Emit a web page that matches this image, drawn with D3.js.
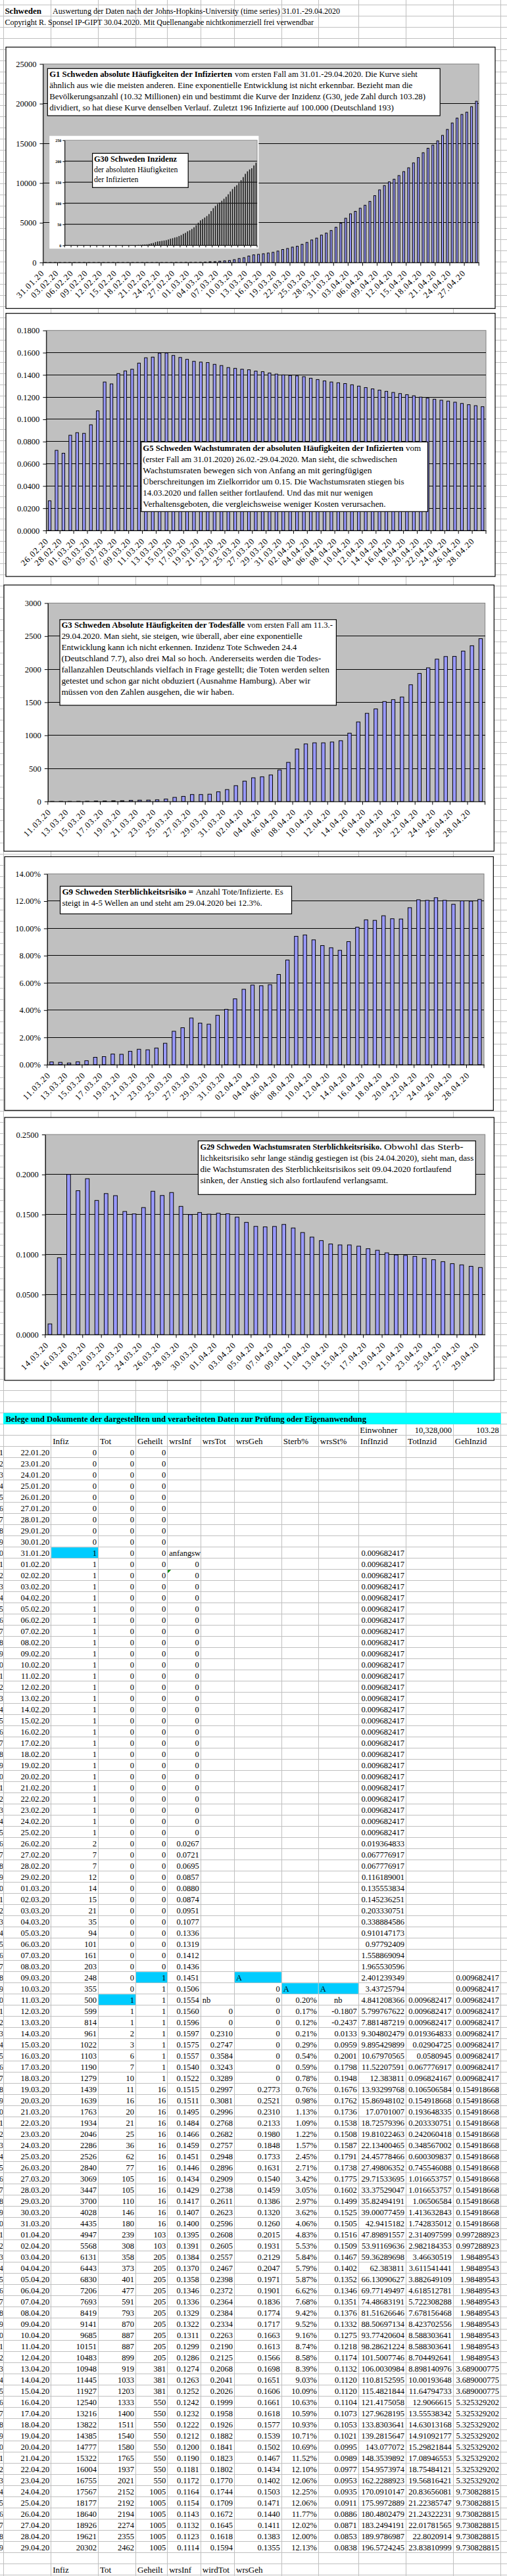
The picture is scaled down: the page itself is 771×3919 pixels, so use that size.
<!DOCTYPE html>
<html><head><meta charset="utf-8">
<script src="https://cdn.jsdelivr.net/npm/d3@7"></script>
<style>body{margin:0;background:#fff}svg{display:block}</style>
</head><body>
<svg id="c" width="771" height="3919"></svg>
<script>
// ---------- DATA ----------
const dates = d3.timeDay.range(new Date(2020,0,22), new Date(2020,3,30)).map(d3.timeFormat("%d.%m.%y"));

const infiz = [0,0,0,0,0,0,0,0,0,
 1,1,1,1,1,1,1,1,1,1,1,1,1,1,1,1,1,1,1,1,1,1,1,1,1,1,
 2,7,7,12,
 14,15,21,35,94,101,161,203,248,355,500,599,814,961,1022,1103,1190,1279,1439,1639,1763,1934,2046,2286,2526,2840,3069,3447,3700,4028,4435,
 4947,5568,6131,6443,6830,7206,7693,8419,9141,9685,10151,10483,10948,11445,11927,12540,13216,13822,14385,14777,15322,16004,16755,17567,18177,18640,18926,19621,20302];

const tot = [0,0,0,0,0,0,0,0,0,0, 0,0,0,0,0,0,0,0,0,0, 0,0,0,0,0,0,0,0,0,0, 0,0,0,0,0,0,0,0,0,0, 0,0,0,0,0,0,0,0,0,
 1,1,1,2,3,6,7,10,11,16,20,21,25,36,62,77,105,105,110,146,180,
 239,308,358,373,401,477,591,793,870,887,887,899,919,1033,1203,1333,1400,1511,1540,1580,1765,1937,2021,2152,2192,2194,2274,2355,2462];

const geheilt = [0,0,0,0,0,0,0,0,0,0, 0,0,0,0,0,0,0,0,0,0, 0,0,0,0,0,0,0,0,0,0, 0,0,0,0,0,0,0,0,0,0, 0,0,0,0,0,0,0,
 1,1,1,1,1,1,1,1,1,1,
 16,16,16,16,16,16,16,16,16,16,16,16,16,
 103,103,
 205,205,205,205,205,205,205,205,205,205,
 381,381,381,
 550,550,550,550,550,550,550,550,
 1005,1005,1005,1005,1005,1005];

const wrsInf = [null,null,null,null,null,null,null,null,null,null,
 0,0,0,0,0,0,0,0,0,0,0,0,0,0,0,0,0,0,0,0,0,0,0,0,0,
 0.0267,0.0721,0.0695,0.0857,
 0.0880,0.0874,0.0951,0.1077,0.1336,0.1319,0.1412,0.1436,0.1451,0.1506,0.1554,0.1560,0.1596,0.1597,0.1575,0.1557,0.1540,0.1522,0.1515,0.1511,0.1495,0.1484,0.1466,0.1459,0.1451,0.1446,0.1434,0.1429,0.1417,0.1407,0.1400,
 0.1395,0.1391,0.1384,0.1370,0.1358,0.1346,0.1336,0.1329,0.1322,0.1311,0.1299,0.1286,0.1274,0.1263,0.1252,0.1242,0.1232,0.1222,0.1212,0.1200,0.1190,0.1181,0.1172,0.1164,0.1154,0.1143,0.1132,0.1123,0.1114];

const wrsTot = [null,null,null,null,null,null,null,null,null,null, null,null,null,null,null,null,null,null,null,null,
 null,null,null,null,null,null,null,null,null,null, null,null,null,null,null,null,null,null,null,null,
 null,null,null,null,null,null,null,null,null,null,
 0,0,
 0.2310,0.2747,0.3584,0.3243,0.3289,0.2997,0.3081,0.2996,0.2768,0.2682,0.2757,0.2948,0.2896,0.2909,0.2738,0.2611,0.2623,0.2596,
 0.2608,0.2605,0.2557,0.2467,0.2398,0.2372,0.2364,0.2384,0.2334,0.2263,0.2190,0.2125,0.2068,0.2041,0.2026,0.1999,0.1958,0.1926,0.1882,0.1841,0.1823,0.1802,0.1770,0.1744,0.1709,0.1672,0.1645,0.1618,0.1594];

const wrsGeh = [null,null,null,null,null,null,null,null,null,null, null,null,null,null,null,null,null,null,null,null,
 null,null,null,null,null,null,null,null,null,null, null,null,null,null,null,null,null,null,null,null,
 null,null,null,null,null,null,null,null,
 0,0,0,0,0,0,0,0,0,
 0.2773,0.2521,0.2310,0.2133,0.1980,0.1848,0.1733,0.1631,0.1540,0.1459,0.1386,0.1320,0.1260,
 0.2015,0.1931,0.2129,0.2047,0.1971,0.1901,0.1836,0.1774,0.1717,0.1663,0.1613,0.1566,0.1698,0.1651,0.1606,0.1661,0.1618,0.1577,0.1539,0.1502,0.1467,0.1434,0.1402,0.1503,0.1471,0.1440,0.1411,0.1383,0.1355];

const sterb = [null,null,null,null,null,null,null,null,null,null, null,null,null,null,null,null,null,null,null,null,
 null,null,null,null,null,null,null,null,null,null, null,null,null,null,null,null,null,null,null,null,
 null,null,null,null,null,null,null,null,null,
 0.20,0.17,0.12,0.21,0.29,0.54,0.59,0.78,0.76,0.98,1.13,1.09,1.22,1.57,2.45,2.71,3.42,3.05,2.97,3.62,4.06,
 4.83,5.53,5.84,5.79,5.87,6.62,7.68,9.42,9.52,9.16,8.74,8.58,8.39,9.03,10.09,10.63,10.59,10.93,10.71,10.69,11.52,12.10,12.06,12.25,12.06,11.77,12.02,12.00,12.13];

const wrsSt = [null,null,null,null,null,null,null,null,null,null, null,null,null,null,null,null,null,null,null,null,
 null,null,null,null,null,null,null,null,null,null, null,null,null,null,null,null,null,null,null,null,
 null,null,null,null,null,null,null,null,null,null,
 -0.1807,-0.2437,
 0.0133,0.0959,0.2001,0.1798,0.1948,0.1676,0.1762,0.1736,0.1538,0.1508,0.1587,0.1791,0.1738,0.1775,0.1602,0.1499,0.1525,0.1505,
 0.1516,0.1509,0.1467,0.1402,0.1352,0.1346,0.1351,0.1376,0.1332,0.1275,0.1218,0.1174,0.1132,0.1120,0.1120,0.1104,0.1073,0.1053,0.1021,0.0995,0.0989,0.0977,0.0953,0.0935,0.0911,0.0886,0.0871,0.0853,0.0838];

const infInz = [null,null,null,null,null,null,null,null,null,
 0.009682417,0.009682417,0.009682417,0.009682417,0.009682417,0.009682417,0.009682417,0.009682417,0.009682417,0.009682417,0.009682417,0.009682417,0.009682417,
 0.009682417,0.009682417,0.009682417,0.009682417,0.009682417,0.009682417,0.009682417,0.009682417,0.009682417,0.009682417,0.009682417,0.009682417,0.009682417,
 0.019364833,0.067776917,0.067776917,0.116189001,
 0.135553834,0.145236251,0.203330751,0.338884586,0.910147173,0.97792409,1.558869094,1.965530596,2.401239349,3.43725794,4.841208366,5.799767622,7.881487219,9.304802479,9.895429899,10.67970565,11.52207591,12.383811,13.93299768,15.86948102,17.0701007,18.72579396,19.81022463,22.13400465,24.45778466,27.49806352,29.71533695,33.37529047,35.82494191,39.00077459,42.9415182,
 47.89891557,53.91169636,59.36289698,62.383811,66.13090627,69.77149497,74.48683191,81.51626646,88.50697134,93.77420604,98.28621224,101.5007746,106.0030984,110.8152595,115.4821844,121.4175058,127.9628195,133.8303641,139.2815647,143.077072,148.3539892,154.9573974,162.2288923,170.0910147,175.9972889,180.4802479,183.2494191,189.9786987,196.5724245];

const totInz = [null,null,null,null,null,null,null,null,null,null, null,null,null,null,null,null,null,null,null,null,
 null,null,null,null,null,null,null,null,null,null, null,null,null,null,null,null,null,null,null,null,
 null,null,null,null,null,null,null,null,null,
 0.009682417,0.009682417,0.009682417,0.019364833,0.02904725,0.0580945,0.067776917,0.096824167,0.106506584,0.154918668,0.193648335,0.203330751,0.242060418,0.348567002,0.600309837,0.745546088,1.016653757,1.016653757,1.06506584,1.413632843,1.742835012,
 2.314097599,2.982184353,3.46630519,3.611541441,3.882649109,4.618512781,5.722308288,7.678156468,8.423702556,8.588303641,8.588303641,8.704492641,8.898140976,10.00193648,11.64794733,12.9066615,13.55538342,14.63013168,14.91092177,15.29821844,17.08946553,18.75484121,19.56816421,20.83656081,21.22385747,21.24322231,22.01781565,22.8020914,23.83810999];

const gehInz = [null,null,null,null,null,null,null,null,null,null, null,null,null,null,null,null,null,null,null,null,
 null,null,null,null,null,null,null,null,null,null, null,null,null,null,null,null,null,null,null,null,
 null,null,null,null,null,null,null,
 0.009682417,0.009682417,0.009682417,0.009682417,0.009682417,0.009682417,0.009682417,0.009682417,0.009682417,0.009682417,
 0.154918668,0.154918668,0.154918668,0.154918668,0.154918668,0.154918668,0.154918668,0.154918668,0.154918668,0.154918668,0.154918668,0.154918668,0.154918668,
 0.997288923,0.997288923,
 1.98489543,1.98489543,1.98489543,1.98489543,1.98489543,1.98489543,1.98489543,1.98489543,1.98489543,1.98489543,
 3.689000775,3.689000775,3.689000775,
 5.325329202,5.325329202,5.325329202,5.325329202,5.325329202,5.325329202,5.325329202,5.325329202,
 9.730828815,9.730828815,9.730828815,9.730828815,9.730828815,9.730828815];

const headers = ["Infiz","Tot","Geheilt","wrsInf","wrsTot","wrsGeh","Sterb%","wrsSt%","InfInzid","TotInzid","GehInzid"];
const footHeaders = ["Infiz","Tot","Geheilt","wrsInf","wirdTot","wrsGeh"];

const ticks1 = [0,5000,10000,15000,20000,25000];
const ticks2 = [0,0.02,0.04,0.06,0.08,0.10,0.12,0.14,0.16,0.18];
const ticks3 = [0,500,1000,1500,2000,2500,3000];
const ticks4 = [0,2,4,6,8,10,12,14];
const ticks5 = [0,0.05,0.10,0.15,0.20,0.25];
const ticksInset = [0,50,100,150,200,250];

// ---------- DRAW ----------
const svg = d3.select("#c");
const FONT = "'Liberation Serif','Times New Roman',Times,serif";
function T(g,x,y,s,o={}){
  const t = g.append("text").attr("x",x).attr("y",y).text(s)
    .attr("font-family",FONT).attr("font-size",o.size||12.5).attr("fill",o.fill||"#000");
  if(o.bold) t.attr("font-weight","bold");
  if(o.anchor) t.attr("text-anchor",o.anchor);
  if(o.len) t.attr("textLength",o.len).attr("lengthAdjust","spacingAndGlyphs");
  return t;
}
svg.append("rect").attr("width",771).attr("height",3919).attr("fill","#fff");

const colX = [5,77.7,149.5,206.5,254.7,305.3,356.5,428.3,484.3,545.3,617.6,689.3,761.6];
const rowY = k => 7.7 + 17*k;

// sheet fills (under grid)
const fills = svg.append("g");
fills.append("rect").attr("x",colX[0]).attr("y",rowY(126)).attr("width",colX[12]-colX[0]).attr("height",17).attr("fill","#00ffff");

// grid
const grid = svg.append("g").attr("stroke","#c0c0c0").attr("shape-rendering","crispEdges");
grid.selectAll("line.v").data(colX).join("line").attr("class","v")
  .attr("x1",d=>d).attr("x2",d=>d).attr("y1",0).attr("y2",3919);
grid.selectAll("line.h").data(d3.range(0,231)).join("line").attr("class","h")
  .attr("x1",0).attr("x2",771).attr("y1",rowY).attr("y2",rowY);
svg.append("rect").attr("x",colX[0]).attr("y",rowY(126)).attr("width",colX[12]-colX[0]).attr("height",17).attr("fill","#00ffff");

// header text
T(svg,7.4,20.5,"Schweden",{bold:true,size:13});
T(svg,80.1,20.5,"Auswertung der Daten nach der Johns-Hopkins-University (time series) 31.01.-29.04.2020",{size:13,len:437});
T(svg,7.4,37.5,"Copyright R. Sponsel IP-GIPT 30.04.2020. Mit Quellenangabe nichtkommerziell frei verwendbar",{size:13,len:469.6});

function annot(box, lines){
  const g = svg.append("g");
  g.append("rect").attr("x",box[0]).attr("y",box[1]).attr("width",box[2]-box[0]).attr("height",box[3]-box[1])
    .attr("fill","#fff").attr("stroke","#000").attr("stroke-width",1.2);
  lines.forEach(l => l.segs.forEach(s => T(g,s[1],l.y,s[0],{size:13,bold:!!s[3],len:s[2]-s[1]})));
}

function barChart(cfg){
  const g = svg.append("g");
  const f = cfg.frame;
  g.append("rect").attr("x",f[0]).attr("y",f[1]).attr("width",f[2]-f[0]).attr("height",f[3]-f[1])
    .attr("fill","#fff").attr("stroke","#000").attr("stroke-width",1.2);
  const [l,t,r,b] = cfg.plot;
  const x = d3.scaleBand().domain(cfg.cats).range([l,r]).paddingInner(0.6).paddingOuter(0.3);
  const y = d3.scaleLinear().domain(cfg.dom).range([b,t]);
  g.append("rect").attr("x",l).attr("y",t).attr("width",r-l).attr("height",b-t).attr("fill","#c0c0c0").attr("stroke","#808080");
  g.append("g").selectAll("line").data(cfg.ticks.filter(v=>v>cfg.dom[0]&&v<cfg.dom[1])).join("line")
    .attr("x1",l).attr("x2",r).attr("y1",d=>y(d)).attr("y2",d=>y(d)).attr("stroke","#000").attr("shape-rendering","crispEdges");
  const data = cfg.vals.map((v,i)=>({c:cfg.cats[i],v}));
  g.append("g").selectAll("rect").data(data).join("rect")
    .attr("x",d=>x(d.c)).attr("width",x.bandwidth())
    .attr("y",d=>y(d.v)).attr("height",d=>y(0)-y(d.v))
    .attr("fill","#9999ff").attr("stroke","#000").attr("stroke-width",1);
  const ya = g.append("g").attr("transform",`translate(${l},0)`)
    .call(d3.axisLeft(y).tickValues(cfg.ticks).tickFormat(cfg.fmt).tickSize(5).tickPadding(5).tickSizeOuter(0));
  ya.selectAll("text").attr("font-family",FONT).attr("font-size",12.5).attr("fill","#000");
  const xa = g.append("g").attr("transform",`translate(0,${b})`)
    .call(d3.axisBottom(x).tickValues(cfg.cats.filter((c,i)=>i%cfg.every===0)).tickSize(0).tickSizeOuter(0));
  xa.selectAll("text").attr("font-family",FONT).attr("font-size",13).attr("fill","#000")
    .attr("letter-spacing",1).attr("text-anchor","end").attr("y",0).attr("dy",0)
    .attr("transform","translate(-1,17) rotate(-45)");
  const n = cfg.cats.length;
  g.append("g").selectAll("line").data(d3.range(0,n+1,cfg.every)).join("line")
    .attr("x1",i=>l+i*x.step()).attr("x2",i=>l+i*x.step()).attr("y1",b).attr("y2",b+5).attr("stroke","#000");
  return g;
}

// Chart 1
barChart({frame:[9,71.7,753,469.3],plot:[65.4,97.3,728.2,399.3],cats:dates.slice(9),vals:infiz.slice(9),
  dom:[0,25000],ticks:ticks1,fmt:d3.format("d"),every:3});
annot([72.3,104.3,669.2,176],[
  {y:117.3,segs:[["G1 Schweden absolute Häufigkeiten der Infizierten",75.2,353,1],["vom ersten Fall am 31.01.-29.04.2020. Die Kurve sieht",357,634.8]]},
  {y:134.3,segs:[["ähnlich aus wie die meisten anderen. Eine exponentielle Entwicklung ist nicht erkennbar. Bezieht man die",75.2,627.4]]},
  {y:151.3,segs:[["Bevölkerungsanzahl (10.32 Millionen) ein und bestimmt die Kurve der Inzidenz (G30, jede Zahl durch 103.28)",75.2,647]]},
  {y:168.3,segs:[["dividiert, so hat diese Kurve denselben Verlauf. Zuletzt 196 Infizierte auf 100.000 (Deutschland 193)",75.2,598.9]]}
]);

// Inset G30
(function(){
  const g = svg.append("g");
  g.append("rect").attr("x",75.2).attr("y",206.7).attr("width",393.4-75.2).attr("height",378.3-206.7).attr("fill","#fff");
  const l=98.3,t=213.3,r=391,b=373.3;
  const x = d3.scaleBand().domain(dates.slice(9)).range([l,r]).paddingInner(0.5).paddingOuter(0.25);
  const y = d3.scaleLinear().domain([0,250]).range([b,t]);
  g.append("rect").attr("x",l).attr("y",t).attr("width",r-l).attr("height",b-t).attr("fill","#c0c0c0").attr("stroke","#909090");
  g.append("g").selectAll("line").data(ticksInset.filter(v=>v>0&&v<250)).join("line")
    .attr("x1",l).attr("x2",r).attr("y1",d=>y(d)).attr("y2",d=>y(d)).attr("stroke","#333").attr("stroke-width",1.6);
  g.append("g").selectAll("rect").data(infInz.slice(9).map((v,i)=>({c:dates[i+9],v}))).join("rect")
    .attr("x",d=>x(d.c)).attr("width",x.bandwidth()).attr("y",d=>y(d.v)).attr("height",d=>y(0)-y(d.v))
    .attr("fill","#1a1a1a");
  const ya = g.append("g").attr("transform",`translate(${l},0)`)
    .call(d3.axisLeft(y).tickValues(ticksInset).tickSize(3).tickPadding(2).tickSizeOuter(0));
  ya.selectAll("text").attr("font-family",FONT).attr("font-size",6).attr("font-weight","bold").attr("fill","#000");
  g.append("line").attr("x1",l).attr("x2",r).attr("y1",b).attr("y2",b).attr("stroke","#000");
  g.append("g").selectAll("line").data(d3.range(0,91,3)).join("line")
    .attr("x1",i=>l+i*x.step()).attr("x2",i=>l+i*x.step()).attr("y1",b).attr("y2",b+3).attr("stroke","#000");
  annot([140.6,233.3,286.2,285.3],[
    {y:245.5,segs:[["G30 Schweden Inzidenz",143,269,1]]},
    {y:261.5,segs:[["der absoluten Häufigkeiten",143,270.4]]},
    {y:277.3,segs:[["der Infizierten",143,210.4]]}
  ]);
})();

// Chart 2
barChart({frame:[9,476.7,753,877],plot:[70.3,502.7,739,807],cats:dates.slice(35),vals:wrsInf.slice(35),
  dom:[0,0.18],ticks:ticks2,fmt:d3.format(".4f"),every:2});
annot([214.9,672.3,650.5,778.3],[
  {y:685.7,segs:[["G5 Schweden Wachstumraten der absoluten Häufigkeiten der Infizierten",217.3,613.6,1],["vom",617,640.2]]},
  {y:702.7,segs:[["(erster Fall am 31.01.2020) 26.02.-29.04.2020. Man sieht, die schwedischen",217.3,603.8]]},
  {y:719.7,segs:[["Wachstumsraten bewegen sich von Anfang an mit geringfügigen",217.3,565.4]]},
  {y:736.7,segs:[["Überschreitungen im Zielkorridor um 0.15. Die Wachstumsraten stiegen bis",217.3,614.6]]},
  {y:753.7,segs:[["14.03.2020 und fallen seither fortlaufend. Und das mit nur wenigen",217.3,566.9]]},
  {y:770.7,segs:[["Verhaltensgeboten, die vergleichsweise weniger Kosten verursachen.",217.3,586.6]]}
]);

// Chart 3
barChart({frame:[6,890,751.3,1295],plot:[72.8,917.5,737.6,1219.3],cats:dates.slice(49),vals:tot.slice(49),
  dom:[0,3000],ticks:ticks3,fmt:d3.format("d"),every:2});
annot([91,942.7,511.4,1073],[
  {y:955,segs:[["G3 Schweden Absolute Häufigkeiten der Todesfälle",93.4,372.2,1],["vom ersten Fall am 11.3.-",376,506]]},
  {y:972,segs:[["29.04.2020. Man sieht, sie steigen, wie überall, aber eine exponentielle",93.4,459.7]]},
  {y:989,segs:[["Entwicklung kann ich nicht erkennen. Inzidenz Tote Schweden  24.4",93.4,451.4]]},
  {y:1006,segs:[["(Deutschland 7.7), also drei Mal so hoch.  Andererseits werden die Todes-",93.4,488.2]]},
  {y:1023,segs:[["fallanzahlen Deutschlands vielfach in Frage gestellt; die Toten werden selten",93.4,501]]},
  {y:1040,segs:[["getestet und schon gar nicht obduziert (Ausnahme Hamburg). Aber wir",93.4,472]]},
  {y:1057,segs:[["müssen von den Zahlen ausgehen, die wir haben.",93.4,356]]}
]);

// Chart 4
barChart({frame:[7,1303.3,750.3,1689.3],plot:[71.8,1329.5,736,1619.7],cats:dates.slice(49),vals:sterb.slice(49),
  dom:[0,14],ticks:ticks4,fmt:d=>d.toFixed(2)+"%",every:2});
annot([91.5,1348.3,443.5,1390.3],[
  {y:1360.5,segs:[["G9 Schweden Sterblichkeitsrisiko =",94.4,294,1],["Anzahl Tote/Infizierte. Es",297.5,430.7]]},
  {y:1378,segs:[["steigt in 4-5 Wellen an und steht am 29.04.2020 bei 12.3%.",94.4,398.8]]}
]);

// Chart 5
barChart({frame:[7,1700,751.3,2100],plot:[68.8,1726,737.6,2030.3],cats:dates.slice(52),vals:wrsSt.slice(52),
  dom:[0,0.25],ticks:ticks5,fmt:d3.format(".4f"),every:2});
annot([301.4,1735.7,723.3,1817.3],[
  {y:1748.5,segs:[["G29 Schweden Wachstumsraten Sterblichkeitsrisiko.",304.4,580.2,1],["Obwohl das  Sterb-",584,704.6]]},
  {y:1765.5,segs:[["lichkeitsrisiko sehr lange ständig gestiegen ist (bis 24.04.2020), sieht man, dass",304.4,720.3]]},
  {y:1782.5,segs:[["die Wachstumsraten des Sterblichkeitsrisikos seit 09.04.2020 fortlaufend",304.4,686.4]]},
  {y:1799.5,segs:[["sinken, der Anstieg sich also fortlaufend verlangsamt.",304.4,590]]}
]);

// ---------- TABLE ----------
const tg = svg.append("g");
const hl = "#00ccff";
const cellFill = (i,c) => tg.append("rect").attr("x",colX[c]+0.5).attr("y",rowY(129+i)+0.5)
  .attr("width",colX[c+1]-colX[c]-1).attr("height",16).attr("fill",hl);
cellFill(9,1); cellFill(47,3); cellFill(47,6); cellFill(48,7); cellFill(48,8); cellFill(49,2);
tg.append("path").attr("d",`M${colX[4]+0.5},${rowY(129+11)+0.5}h5l-5,5z`).attr("fill","#008000");

T(tg,8.4,rowY(126)+13.3,"Belege und Dokumente der dargestellten und verarbeiteten Daten zur Prüfung oder Eigenanwendung",{bold:true,size:13,len:548.6});
T(tg,547.3,rowY(127)+13.3,"Einwohner",{size:13});
T(tg,687,rowY(127)+13.3,"10,328,000",{size:12.5,anchor:"end"});
T(tg,758.7,rowY(127)+13.3,"103.28",{size:12.5,anchor:"end"});
headers.forEach((h,j)=>T(tg,colX[j+1]+2.5,rowY(128)+13.3,h,{size:13}));
footHeaders.forEach((h,j)=>T(tg,colX[j+1]+2.5,rowY(229)+13.3,h,{size:13}));

const f4 = v => v===0 ? "0" : v.toFixed(4);
const tableCols = [
  {arr:infiz,fmt:String},{arr:tot,fmt:String},{arr:geheilt,fmt:String},
  {arr:wrsInf,fmt:f4},{arr:wrsTot,fmt:f4},{arr:wrsGeh,fmt:f4},
  {arr:sterb,fmt:v=>v.toFixed(2)+"%"},{arr:wrsSt,fmt:f4},
  {arr:infInz,fmt:String},{arr:totInz,fmt:String},{arr:gehInz,fmt:String}
];
svg.append("defs").append("clipPath").attr("id","rn").append("rect").attr("x",0).attr("y",0).attr("width",4.5).attr("height",3919);
const rn = tg.append("g").attr("clip-path","url(#rn)");
dates.forEach((d,i)=>{
  const y = rowY(129+i)+13.3;
  T(rn,5,y,String(i+1),{size:12.5,anchor:"end"});
  T(tg,colX[1]-2.5,y,d,{size:12.5,anchor:"end"});
  tableCols.forEach((c,j)=>{
    const v = c.arr[i];
    if(v!==null && v!==undefined) T(tg,colX[j+2]-2.5,y,c.fmt(v),{size:12.5,anchor:"end"});
  });
});
const specials = [[9,4,"anfangsw"],[47,6,"A"],[48,7,"A"],[48,8,"A"],[49,5,"nb"]];
specials.forEach(s=>T(tg,colX[s[1]]+2.5,rowY(129+s[0])+13.3,s[2],{size:12.5}));
T(tg,508,rowY(129+49)+13.3,"nb",{size:12.5});
</script>
</body></html>
